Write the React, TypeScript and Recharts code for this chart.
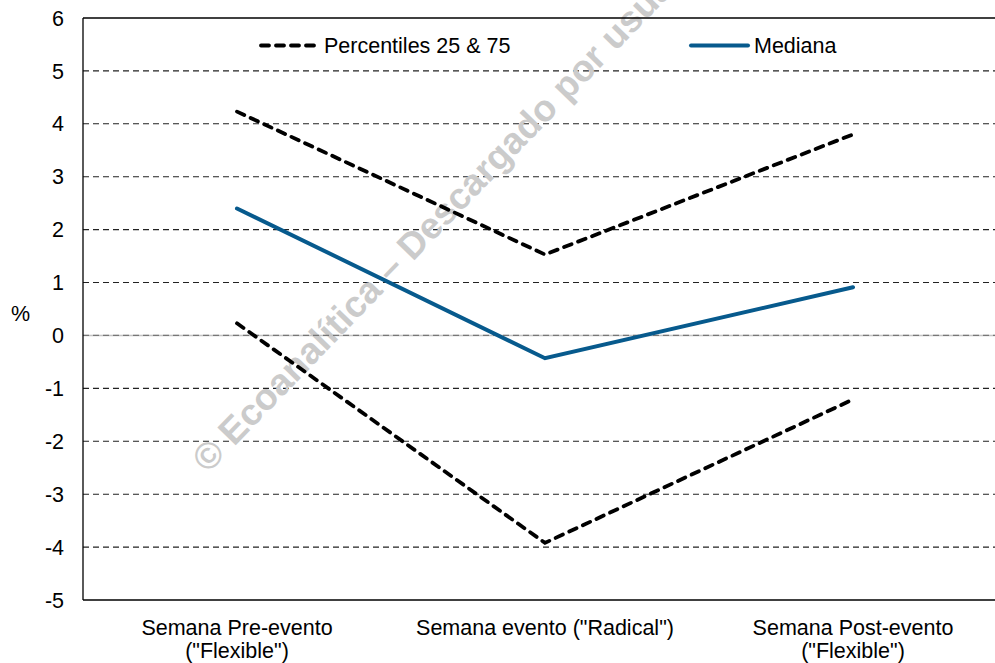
import React from "react";
import {
  LineChart,
  Line,
  XAxis,
  YAxis,
  CartesianGrid,
  ReferenceLine,
  Customized,
} from "recharts";

const categories = [
  "Semana Pre-evento|(\"Flexible\")",
  "Semana evento (\"Radical\")|",
  "Semana Post-evento|(\"Flexible\")",
];
const p75 = [4.23, 1.53, 3.8];
const mediana = [2.4, -0.43, 0.91];
const p25 = [0.23, -3.92, -1.21];
const yTicks = [-5, -4, -3, -2, -1, 0, 1, 2, 3, 4, 5, 6];
const gridValues = [-4, -3, -2, -1, 1, 2, 3, 4, 5];
const legendLabels = ["Percentiles 25 & 75", "Mediana"];
const watermark = "© Ecoanalítica – Descargado por usuario";

const data = categories.map((c, i) => ({
  cat: c,
  p75: p75[i],
  med: mediana[i],
  p25: p25[i],
}));

const FONT = "'Liberation Sans', Arial, sans-serif";
const BLUE = "#075a8d";

const XTick = (props: any) => {
  const { x, y, payload } = props;
  const [l1, l2] = String(payload.value).split("|");
  return (
    <text x={x} y={y} textAnchor="middle" fontFamily={FONT} fontSize={21.5} fill="#000">
      <tspan x={x} dy={35}>{l1}</tspan>
      {l2 ? <tspan x={x} dy={23}>{l2}</tspan> : null}
    </text>
  );
};

const LegendLayer = () => (
  <g fontFamily={FONT} fontSize={21.5} fill="#000">
    <line x1={261} y1={45.5} x2={318} y2={45.5} stroke="#000" strokeWidth={3.8} strokeDasharray="8 7" strokeLinecap="round" />
    <text x={324} y={53}>{legendLabels[0]}</text>
    <line x1={691} y1={45.5} x2={748} y2={45.5} stroke={BLUE} strokeWidth={4} strokeLinecap="round" />
    <text x={754} y={53}>{legendLabels[1]}</text>
  </g>
);

const Watermark = () => (
  <text
    x={0}
    y={0}
    transform="translate(208,474) rotate(-46)"
    fontFamily={FONT}
    fontWeight="bold"
    fontSize={37}
    fill="#cbcbcb"
  >
    {watermark}
  </text>
);

const PercentLabel = () => (
  <text x={11} y={321} fontFamily={FONT} fontSize={21.5} fill="#000">%</text>
);

export default function App() {
  return (
    <div style={{ position: "absolute", left: 0, top: 0, width: 995, height: 663, overflow: "hidden", background: "#fff" }}>
      <LineChart width={1010} height={663} data={data} margin={{ top: 18, right: 3, bottom: 0, left: 0 }}>
        <Customized component={Watermark} />
        <CartesianGrid
          horizontal
          vertical={false}
          horizontalValues={gridValues}
          stroke="#222"
          strokeWidth={1.1}
          strokeDasharray="6 4"
        />
        <ReferenceLine y={0} stroke="#c4c4c4" strokeWidth={1.5} />
        <ReferenceLine y={0} stroke="#777" strokeWidth={1.2} strokeDasharray="6 4" />
        <ReferenceLine y={6} stroke="#000" strokeWidth={1.3} />
        <XAxis
          dataKey="cat"
          type="category"
          height={63}
          interval={0}
          padding={{ left: 154, right: 154 }}
          tickLine={false}
          tickSize={0}
          tickMargin={0}
          axisLine={{ stroke: "#000", strokeWidth: 1.3 }}
          tick={<XTick />}
        />
        <YAxis
          width={83}
          domain={[-5, 6]}
          ticks={yTicks}
          interval={0}
          tickLine={false}
          tickSize={0}
          tickMargin={19}
          axisLine={{ stroke: "#000", strokeWidth: 1.3 }}
          tick={{ fontFamily: FONT, fontSize: 21.5, fill: "#000" }}
        />
        <Customized component={PercentLabel} />
        <Customized component={LegendLayer} />
        <Line dataKey="p75" stroke="#000" strokeWidth={3.8} strokeDasharray="8 7" strokeLinecap="round" dot={false} activeDot={false} isAnimationActive={false} />
        <Line dataKey="p25" stroke="#000" strokeWidth={3.8} strokeDasharray="8 7" strokeLinecap="round" dot={false} activeDot={false} isAnimationActive={false} />
        <Line dataKey="med" stroke={BLUE} strokeWidth={4} strokeLinecap="round" dot={false} activeDot={false} isAnimationActive={false} />
      </LineChart>
    </div>
  );
}
